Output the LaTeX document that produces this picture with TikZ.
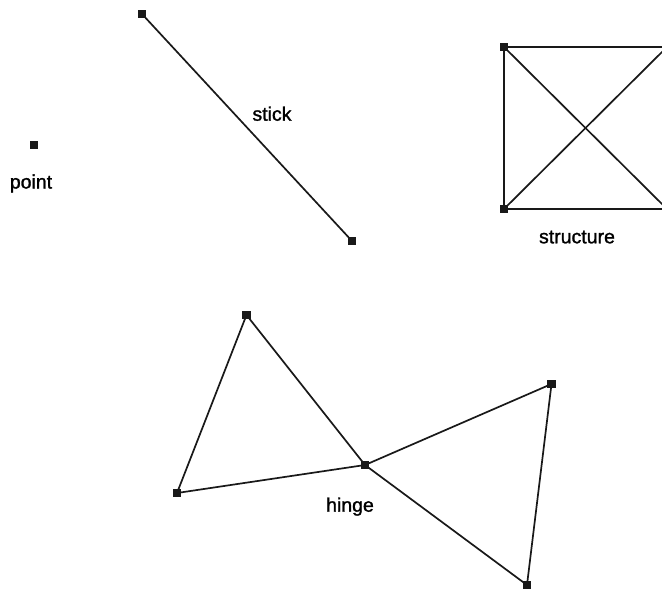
\documentclass[tikz,border=0pt]{standalone}
\usepackage{fontspec}
\setmainfont[FakeBold=1.3]{Liberation Sans}
\begin{document}
\begin{tikzpicture}[x=1pt,y=-1pt,
  vtx/.style={rectangle,fill=black!90,minimum size=8.5pt,inner sep=0pt},
  lbl/.style={anchor=base,inner sep=0pt,font=\fontsize{19.5}{23}\selectfont},
  edge/.style={line width=1.7pt,black!90}]
\useasboundingbox (0,0) rectangle (662,589);
% point
\node[vtx] (p) at (34,145) {};
\node[lbl] (pl) at (31,188.5) {point};
% stick
\node[vtx] (s1) at (142,14) {};
\node[vtx] (s2) at (352,241) {};
\draw[edge] (s1.center) -- (s2.center);
\node[lbl] (sl) at (272,120.7) {stick};
% structure
\node[vtx] (tl) at (504,47) {};
\node[vtx] (bl) at (504,209) {};
\node[vtx] (tr) at (667,47) {};
\node[vtx] (br) at (667,209) {};
\draw[edge] (tr.center) -- (tl.center) -- (bl.center) -- (br.center);
\draw[edge] (tl.center) -- (br.center);
\draw[edge] (bl.center) -- (tr.center);
\node[lbl] (stl) at (577,243.3) {structure};
% hinge
\node[vtx] (ht) at (246.5,315) {};
\node[vtx] (hl) at (177,493) {};
\node[vtx] (hc) at (365,465) {};
\node[vtx] (hr) at (551.5,384) {};
\node[vtx] (hb) at (527,585) {};
\draw[edge] (hc.center) -- (ht.center) -- (hl.center) -- (hc.center);
\draw[edge] (hc.center) -- (hr.center) -- (hb.center) -- (hc.center);
\node[lbl] (hlb) at (350,511.7) {hinge};
\end{tikzpicture}
\end{document}
